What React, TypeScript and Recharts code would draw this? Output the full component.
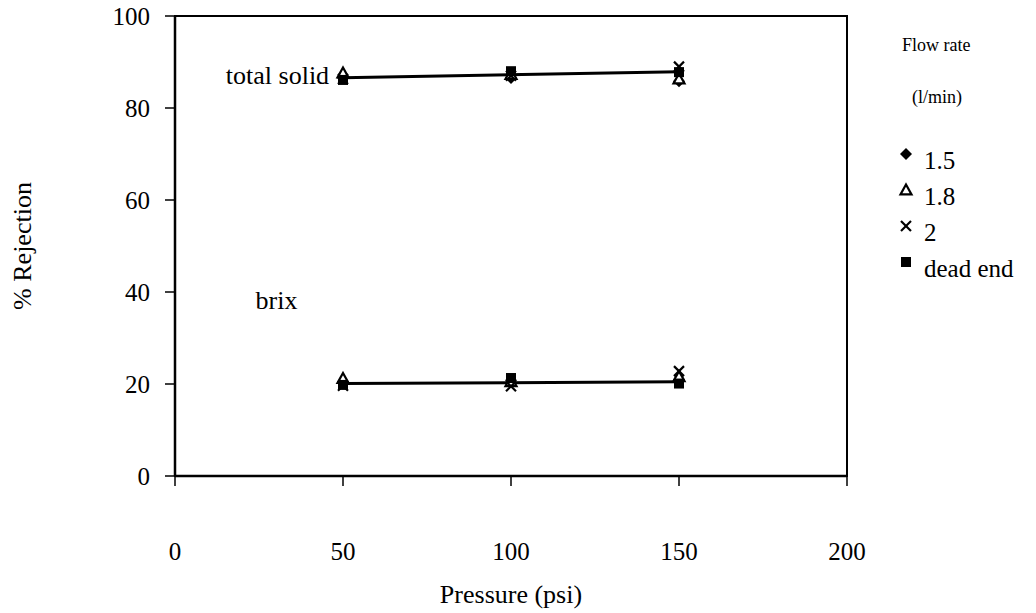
import React from 'react';
import { ComposedChart, Line, Scatter, XAxis, YAxis, ReferenceArea, ReferenceDot } from 'recharts';

const pressures = [50, 100, 150];
const flowRates = ['1.5', '1.8', '2', 'dead end'];
const totalSolid15 = [86.5, 86.5, 85.8];
const totalSolid18 = [87.6, 87.3, 86.3];
const totalSolid2 = [86.3, 87.0, 89.0];
const totalSolidDead = [86.1, 88.0, 87.8];
const brix15 = [20.5, 20.8, 21.0];
const brix18 = [21.2, 20.5, 21.6];
const brix2 = [19.6, 19.5, 22.8];
const brixDead = [19.8, 21.3, 20.1];
const trendPressures = [50, 150];
const totalSolidTrend = [86.6, 87.9];
const brixTrend = [20.1, 20.5];
const xTicks = [0, 50, 100, 150, 200];
const yTicks = [0, 20, 40, 60, 80, 100];

const FONT = 'Liberation Serif';

const toPts = (xs: number[], ys: number[]) => xs.map((x, i) => ({ x, y: ys[i] }));

type ShapeName = 'diamond' | 'triangle' | 'cross' | 'square';
const shapes: ShapeName[] = ['diamond', 'triangle', 'cross', 'square'];

function Marker({ kind, cx, cy }: { kind: ShapeName; cx: number; cy: number }) {
  if (kind === 'diamond') {
    const s = 6;
    return <polygon points={`${cx},${cy - s} ${cx + s},${cy} ${cx},${cy + s} ${cx - s},${cy}`} fill="#000" />;
  }
  if (kind === 'triangle') {
    const s = 5.5;
    return (
      <polygon
        points={`${cx},${cy - s} ${cx + s},${cy + s * 0.8} ${cx - s},${cy + s * 0.8}`}
        fill="#fff"
        stroke="#000"
        strokeWidth={2.2}
      />
    );
  }
  if (kind === 'cross') {
    const s = 5;
    return (
      <g stroke="#000" strokeWidth={2.2}>
        <line x1={cx - s} y1={cy - s} x2={cx + s} y2={cy + s} />
        <line x1={cx - s} y1={cy + s} x2={cx + s} y2={cy - s} />
      </g>
    );
  }
  const s = 5;
  return <rect x={cx - s} y={cy - s} width={s * 2} height={s * 2} fill="#000" />;
}

const makeShape = (kind: ShapeName) => (props: any) => <Marker kind={kind} cx={props.cx} cy={props.cy} />;

const totalSolidSeries = [totalSolid15, totalSolid18, totalSolid2, totalSolidDead];
const brixSeries = [brix15, brix18, brix2, brixDead];

const textStyle = { fill: '#000', fontFamily: FONT };

export default function App() {
  return (
    <div style={{ position: 'absolute', left: 0, top: 0, width: 1036, height: 613, background: '#fff', fontFamily: FONT }}>
      <ComposedChart width={1036} height={613} margin={{ top: 16, right: 189, bottom: 0, left: 0 }} style={{ fontFamily: FONT }}>
        <XAxis
          type="number"
          dataKey="x"
          domain={[0, 200]}
          ticks={xTicks}
          allowDataOverflow
          height={137}
          tickSize={10}
          tickMargin={56}
          axisLine={{ stroke: '#000', strokeWidth: 2.5 }}
          tickLine={{ stroke: '#000', strokeWidth: 1.5 }}
          tick={{ ...textStyle, fontSize: 25 }}
          label={{ value: 'Pressure (psi)', position: 'insideBottom', offset: 10, ...textStyle, fontSize: 26 }}
        />
        <YAxis
          type="number"
          dataKey="y"
          domain={[0, 100]}
          ticks={yTicks}
          width={175}
          tickSize={10}
          tickMargin={15}
          axisLine={{ stroke: '#000', strokeWidth: 2.5 }}
          tickLine={{ stroke: '#000', strokeWidth: 1.5 }}
          tick={{ ...textStyle, fontSize: 25 }}
          label={{ value: '% Rejection', angle: -90, position: 'center', dx: -66, ...textStyle, fontSize: 26 }}
        />
        <ReferenceArea x1={0} x2={200} y1={0} y2={100} fill="none" stroke="#000" strokeWidth={2} />
        <Line data={toPts(trendPressures, totalSolidTrend)} dataKey="y" stroke="#000" strokeWidth={3} dot={false} isAnimationActive={false} legendType="none" />
        <Line data={toPts(trendPressures, brixTrend)} dataKey="y" stroke="#000" strokeWidth={3} dot={false} isAnimationActive={false} legendType="none" />
        {totalSolidSeries.map((vals, i) => (
          <Scatter key={'ts' + i} name={flowRates[i]} data={toPts(pressures, vals)} dataKey="y" shape={makeShape(shapes[i])} isAnimationActive={false} />
        ))}
        {brixSeries.map((vals, i) => (
          <Scatter key={'bx' + i} name={flowRates[i]} data={toPts(pressures, vals)} dataKey="y" shape={makeShape(shapes[i])} isAnimationActive={false} />
        ))}
        <ReferenceDot x={30.5} y={87.2} r={0} fill="none" stroke="none"
          label={{ value: 'total solid', position: 'center', ...textStyle, fontSize: 26 }} />
        <ReferenceDot x={30.2} y={38.3} r={0} fill="none" stroke="none"
          label={{ value: 'brix', position: 'center', ...textStyle, fontSize: 26 }} />
      </ComposedChart>
      <svg style={{ position: 'absolute', left: 880, top: 20 }} width={156} height={270} fontFamily={FONT}>
        <text x={22} y={25} dominantBaseline="central" fontSize={18} fontFamily={FONT} fill="#000">Flow rate</text>
        <text x={32} y={77} dominantBaseline="central" fontSize={18} fontFamily={FONT} fill="#000">(l/min)</text>
        {flowRates.map((name, i) => (
          <g key={name}>
            <Marker kind={shapes[i]} cx={26} cy={134 + i * 36} />
            <text x={44} y={140 + i * 36} dominantBaseline="central" fontSize={25} fontFamily={FONT} fill="#000">{name}</text>
          </g>
        ))}
      </svg>
    </div>
  );
}
